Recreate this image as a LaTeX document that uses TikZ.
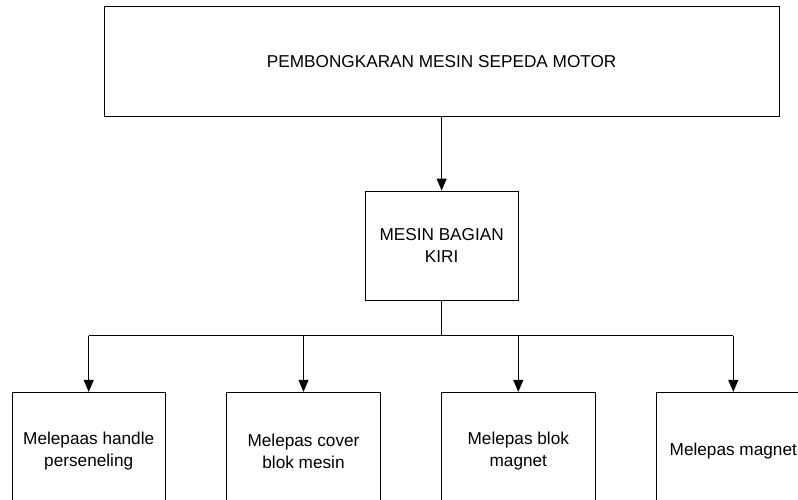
\documentclass[tikz,border=0pt]{standalone}
\usepackage{fontspec}
\setmainfont{Liberation Sans}
\usetikzlibrary{arrows.meta}

\begin{document}
\begin{tikzpicture}[x=1pt,y=-1pt,
  kotak/.style={draw,line width=0.9pt,align=center,inner sep=0pt,
    font=\fontsize{17.2}{22}\selectfont},
  panah/.style={line width=0.9pt,-{Triangle[length=12pt,width=10pt]}}]
\useasboundingbox (0,0) rectangle (798,499);
\clip (0,0) rectangle (798,499);

\node [kotak,minimum width=675.3pt,minimum height=110.4pt] (utama) at (441.65,61.5) {PEMBONGKARAN MESIN SEPEDA MOTOR};
\node [kotak,minimum width=153pt,minimum height=109pt] (kiri) at (441.65,245.5) {MESIN BAGIAN\\KIRI};

\node [kotak,minimum width=153.3pt,minimum height=117.4pt] (handle) at (88.7,451) {Melepaas handle\\perseneling};
\node [kotak,minimum width=153.3pt,minimum height=117.4pt] (cover) at (303.5,451) {Melepas cover\\blok mesin};
\node [kotak,minimum width=153.3pt,minimum height=117.4pt] (blok) at (518.3,451) {Melepas blok\\magnet};
\node [kotak,minimum width=153.3pt,minimum height=117.4pt] (magnet) at (733.3,451) {Melepas magnet};

\coordinate (cabang) at (441.65,335.7);

\draw [panah] (utama.south) -- (kiri.north);
\draw [line width=0.9pt] (kiri.south) -- (cabang);
\draw [line width=0.9pt] (handle.north |- cabang) -- (magnet.north |- cabang);

\draw [panah] (handle.north |- cabang) -- (handle.north);
\draw [panah] (cover.north |- cabang) -- (cover.north);
\draw [panah] (blok.north |- cabang) -- (blok.north);
\draw [panah] (magnet.north |- cabang) -- (magnet.north);
\end{tikzpicture}
\end{document}
